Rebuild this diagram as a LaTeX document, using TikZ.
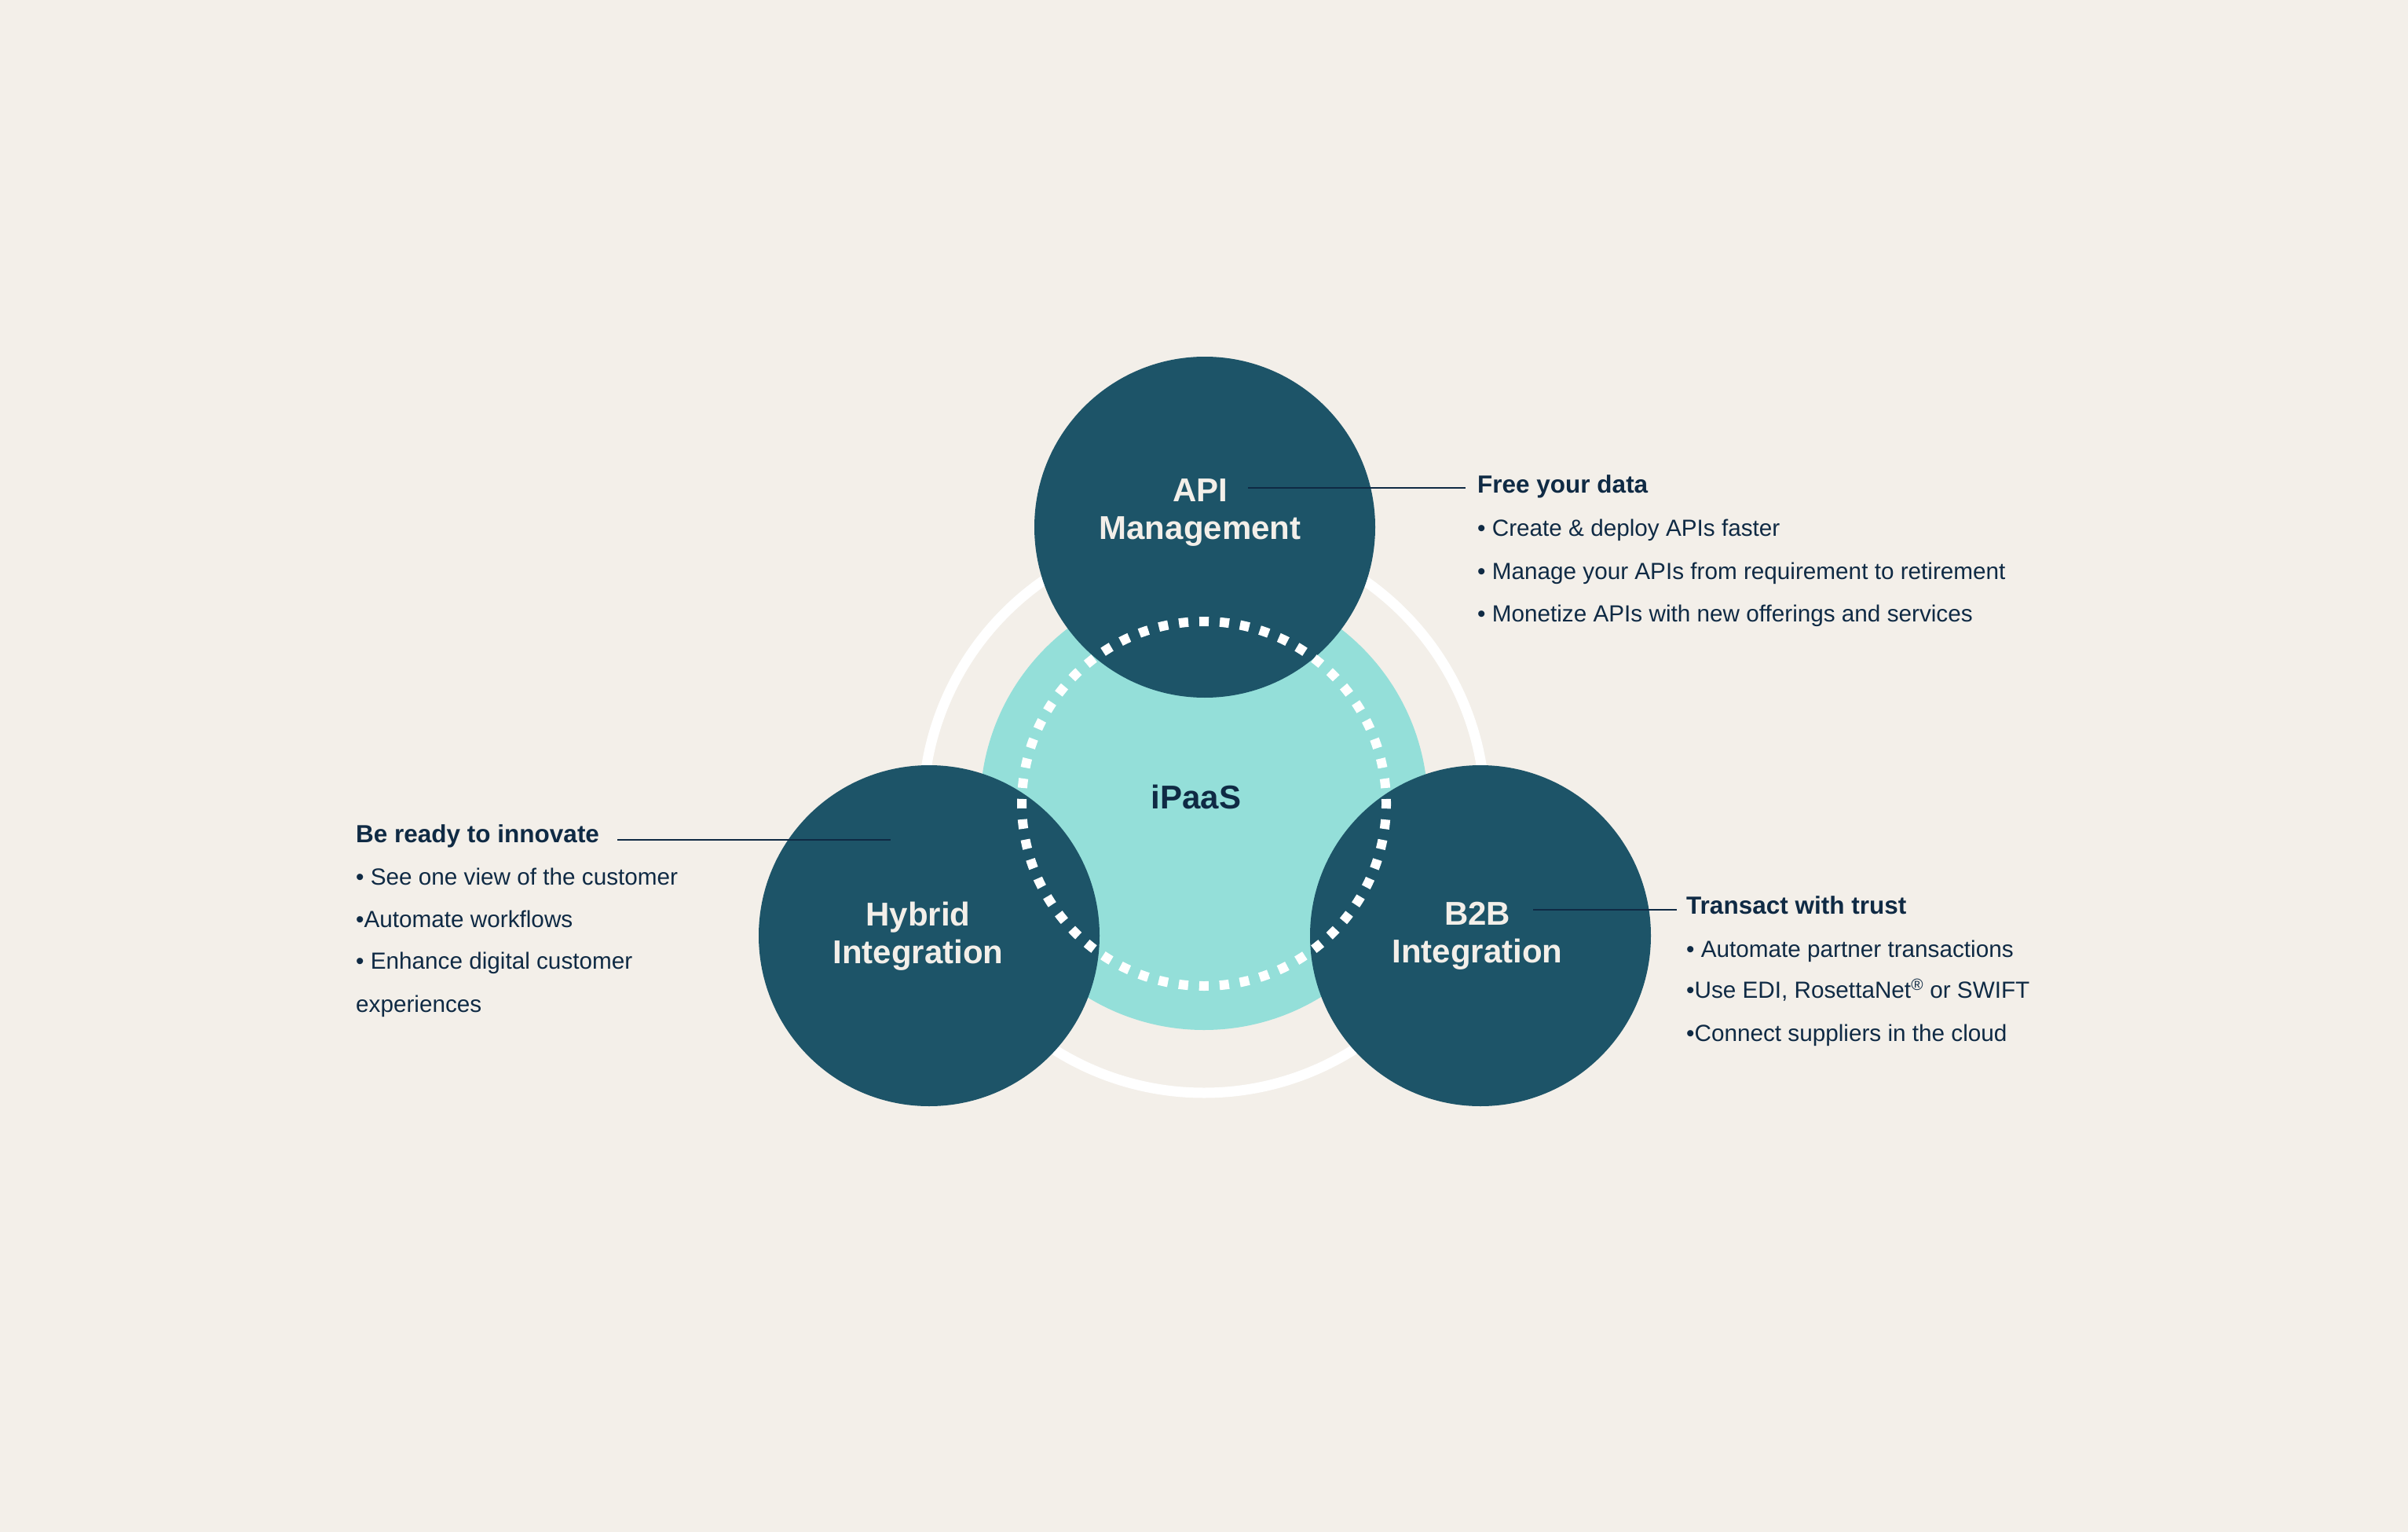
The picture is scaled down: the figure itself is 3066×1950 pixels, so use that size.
\documentclass[tikz,border=0pt]{standalone}
\usepackage{fontspec}
\setmainfont{Liberation Sans}
\definecolor{bgc}{HTML}{F3EFE9}
\definecolor{darkc}{HTML}{1D5468}
\definecolor{tealc}{HTML}{94DFD9}
\definecolor{navy}{HTML}{0F2A44}
\definecolor{lighttxt}{HTML}{F3EFE9}
\begin{document}
\begin{tikzpicture}[x=1pt,y=-1pt,
  hub/.style={circle, fill=darkc, minimum size=434pt, inner sep=0pt},
  lbl/.style={text=lighttxt, font=\bfseries\fontsize{42}{48}\selectfont, anchor=base, inner sep=0pt},
  head/.style={text=navy, font=\bfseries\fontsize{31.5}{38}\selectfont, anchor=base west, inner ysep=0pt},
  item/.style={text=navy, font=\fontsize{29.7}{36}\selectfont, anchor=base west, inner sep=0pt},
  conn/.style={draw=navy, line width=2pt}]
\fill[bgc] (0,0) rectangle (3066,1950);
\useasboundingbox (0,0) rectangle (3066,1950);
% outer ring and core
\node[circle, draw=white, line width=13pt, minimum size=716pt, inner sep=0pt] (ring) at (1533,1033) {};
\node[circle, fill=tealc, minimum size=570pt, inner sep=0pt] (core) at (1533,1026) {};
% three hubs
\node[hub] (api) at (1534,671) {};
\node[hub] (hyb) at (1183,1191) {};
\node[hub] (b2b) at (1885,1191) {};
% dotted circle
\node[circle, draw=white, line width=12pt, minimum size=464pt, inner sep=0pt,
      dash pattern=on 12pt off 14.03pt, dash phase=6pt] (dots) at (1533,1023) {};
% labels
\node[lbl] (apit1) at (1528,638) {API};
\node[lbl] (apit2) at (1528,686) {Management};
\node[lbl] (hybt1) at (1169,1178) {Hybrid};
\node[lbl] (hybt2) at (1169,1226) {Integration};
\node[lbl] (b2bt1) at (1881,1177) {B2B};
\node[lbl] (b2bt2) at (1881,1225) {Integration};
\node[lbl, text=navy] (ipaas) at (1523,1029) {iPaaS};
% API text block
\node[head, inner xsep=15pt] (freeh) at (1866,627) {Free your data};
\node[item] (f1) at (1881,682) {• Create \& deploy APIs faster};
\node[item] (f2) at (1881,737) {• Manage your APIs from requirement to retirement};
\node[item] (f3) at (1881,791) {• Monetize APIs with new offerings and services};
\coordinate (apiL) at (1589,621);
\draw[conn] (apiL) -- (apiL -| freeh.west);
% Hybrid text block
\node[head, inner xsep=23pt] (readyh) at (430,1072) {Be ready to innovate};
\node[item] (h1) at (453,1126) {• See one view of the customer};
\node[item] (h2) at (453,1180) {•Automate workflows};
\node[item] (h3) at (453,1233) {• Enhance digital customer};
\node[item] (h4) at (453,1288) {experiences};
\coordinate (hybR) at (1134,1069);
\draw[conn] (readyh.east |- hybR) -- (hybR);
% B2B text block
\node[head, inner xsep=12pt] (trusth) at (2135,1163) {Transact with trust};
\node[item] (t1) at (2147,1218) {• Automate partner transactions};
\node[item] (t2) at (2147,1270) {•Use EDI, RosettaNet\textsuperscript{®} or SWIFT};
\node[item] (t3) at (2147,1325) {•Connect suppliers in the cloud};
\coordinate (b2bL) at (1952,1158);
\draw[conn] (b2bL) -- (b2bL -| trusth.west);
\end{tikzpicture}
\end{document}
